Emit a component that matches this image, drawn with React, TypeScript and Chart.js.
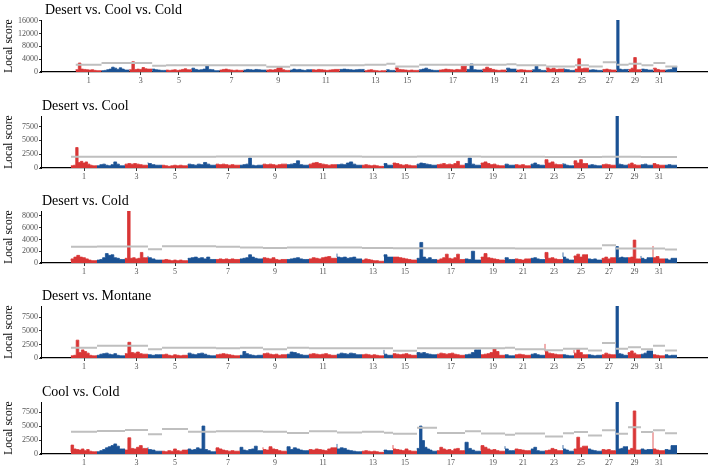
import React, { useEffect, useLayoutEffect, useRef } from 'react';
import { Chart, registerables } from 'chart.js';

Chart.register(...registerables);

// Chromosome (linkage group) lengths in position units, in genome order
const chromosomeLengths = [26, 28, 23, 14, 26, 28, 24, 23, 24, 22, 28, 25, 22, 9, 24, 20, 28, 16, 24, 10, 16, 14, 18, 11, 14, 14, 14, 12, 13, 12, 12, 12];
const labelledChromosomes = [1, 3, 5, 7, 9, 11, 13, 15, 17, 19, 21, 23, 25, 27, 29, 31];

const panelTitles = ['Desert vs. Cool vs. Cold', 'Desert vs. Cool', 'Desert vs. Cold', 'Desert vs. Montane', 'Cool vs. Cold'];
const yAxisMax = [16200, 9400, 8850, 9600, 9300];
const yTicksDesertCoolCold = [0, 4000, 8000, 12000, 16000];
const yTicksDesertCool = [0, 2500, 5000, 7500];
const yTicksDesertCold = [0, 2000, 4000, 6000, 8000];
const yTicksDesertMontane = [0, 2500, 5000, 7500];
const yTicksCoolCold = [0, 2500, 5000, 7500];

// Local score windows, one list per chromosome
const scoresDesertCoolCold: number[][] = [
  [500, 700, 2800, 900, 800, 700, 600, 700, 500, 400],
  [300, 400, 500, 700, 900, 1500, 1200, 800, 1300, 900, 600],
  [600, 700, 3200, 800, 900, 800, 1400, 1000, 900],
  [800, 900, 700, 600, 500],
  [500, 600, 500, 600, 700, 500, 600, 800, 1000, 700],
  [500, 1200, 800, 600, 700, 900, 1900, 800, 700, 400],
  [400, 600, 800, 900, 700, 600, 500, 600, 500],
  [500, 600, 800, 700, 600, 800, 700, 600],
  [500, 600, 700, 600, 800, 1300, 1400, 700, 500],
  [500, 600, 900, 700, 800, 600, 500, 700],
  [600, 700, 600, 800, 700, 600, 500, 600, 700, 800],
  [700, 800, 900, 800, 700, 600, 700, 800],
  [300, 400, 600, 700, 500, 400, 300, 400],
  [600, 700, 500],
  [900, 1300, 800, 700, 600, 500, 600, 500],
  [500, 700, 900, 1200, 800, 600, 500],
  [500, 600, 700, 900, 800, 700, 600, 800, 700, 1800],
  [500, 800, 2500, 700, 600],
  [600, 900, 1500, 1100, 800, 600, 500, 600],
  [700, 1200, 900],
  [500, 600, 700, 600, 500],
  [500, 700, 1800, 800, 500],
  [1100, 1300, 900, 1200, 800, 900],
  [1200, 800, 700, 500],
  [700, 900, 4100, 1000, 1200],
  [500, 600, 700, 600, 500],
  [600, 800, 900, 700, 600],
  [700, 16200, 900, 700, 800],
  [600, 800, 1200, 4500, 700],
  [700, 900, 800, 600],
  [900, 1200, 800, 600],
  [500, 600, 700, 800, 1600],
];

const scoresDesertCool: number[][] = [
  [300, 400, 500, 3700, 1000, 1200, 900, 1100, 700, 500, 400],
  [300, 400, 600, 700, 500, 400, 600, 1100, 700, 400],
  [500, 700, 800, 700, 800, 700, 600, 500],
  [1000, 800, 600, 500],
  [400, 500, 400, 300, 400, 500, 400, 500, 400],
  [500, 700, 600, 500, 700, 600, 1000, 700, 500],
  [500, 700, 600, 700, 600, 500, 600, 500],
  [400, 500, 600, 700, 1800, 500, 400, 500],
  [500, 700, 600, 700, 600, 500, 600, 700],
  [500, 600, 700, 800, 1300, 600, 500],
  [500, 700, 900, 1000, 800, 700, 600, 500, 600],
  [500, 600, 700, 600, 900, 1100, 700, 500],
  [400, 500, 600, 500, 400, 500, 400, 300],
  [600, 800, 500],
  [700, 900, 800, 600, 500, 600, 500, 400],
  [500, 700, 900, 800, 700, 600, 500],
  [400, 600, 700, 800, 600, 700, 600, 800, 1200, 500],
  [600, 800, 1800, 700, 500],
  [700, 900, 1100, 800, 600, 700, 500, 400],
  [500, 700, 500],
  [400, 600, 500, 600, 400],
  [500, 700, 900, 600, 500],
  [800, 1500, 900, 1100, 700, 600],
  [900, 700, 500, 400],
  [700, 1300, 900, 1500, 800],
  [400, 500, 600, 500, 400],
  [500, 600, 700, 600, 500],
  [500, 9400, 700, 600, 500],
  [500, 700, 900, 600, 500],
  [500, 600, 700, 500],
  [600, 800, 600, 500],
  [400, 500, 600, 500],
];

const scoresDesertCold: number[][] = [
  [400, 700, 1000, 1300, 1000, 900, 700, 500, 400],
  [400, 500, 600, 900, 1600, 1300, 1400, 900, 800, 600],
  [700, 800, 8850, 800, 900, 700, 800, 1800, 900],
  [1200, 900, 700, 500],
  [400, 500, 600, 500, 400, 500, 400, 500, 400],
  [600, 800, 900, 1000, 800, 900, 700, 1000, 600],
  [500, 600, 700, 600, 700, 600, 700, 600],
  [600, 700, 800, 900, 1400, 1000, 800, 700],
  [700, 900, 800, 700, 900, 600, 500, 600],
  [500, 600, 700, 800, 900, 700, 600],
  [500, 700, 900, 800, 700, 900, 1000, 1100, 800],
  [1600, 1000, 900, 1000, 800, 900, 1000, 700],
  [400, 500, 700, 600, 500, 400, 400, 300],
  [1100, 1400, 1000],
  [900, 1000, 1000, 900, 800, 700, 600, 500],
  [600, 800, 3500, 1000, 700, 900, 600],
  [400, 500, 700, 900, 1500, 800, 700, 900, 1500, 600],
  [500, 700, 600, 2000, 500],
  [800, 1000, 1600, 900, 800, 700, 600, 500],
  [700, 900, 600],
  [500, 700, 600, 500, 700],
  [600, 800, 900, 700, 600],
  [900, 1800, 800, 900, 700, 600],
  [1800, 1000, 700, 500],
  [900, 1200, 1500, 1000, 1400],
  [500, 700, 600, 700, 500],
  [600, 800, 1000, 700, 900],
  [800, 2800, 900, 1000, 900],
  [600, 900, 1000, 3900, 700],
  [1200, 800, 600, 900],
  [2900, 900, 1100, 700],
  [600, 700, 500, 800],
];

const scoresDesertMontane: number[][] = [
  [300, 400, 500, 3300, 1000, 1500, 1200, 900, 500, 400],
  [400, 500, 700, 800, 900, 700, 600, 800, 500, 400],
  [700, 800, 2900, 1000, 900, 1100, 800, 700],
  [700, 600, 500, 600],
  [500, 600, 700, 500, 400, 600, 500, 400, 500],
  [600, 900, 700, 600, 800, 900, 700, 500, 400],
  [500, 600, 700, 800, 700, 600, 500, 400],
  [400, 500, 1200, 800, 600, 500, 400, 500],
  [600, 800, 900, 700, 600, 700, 500, 600],
  [600, 700, 1100, 1000, 800, 600, 500],
  [600, 700, 800, 700, 600, 700, 800, 600, 500],
  [600, 700, 900, 800, 700, 900, 800, 600],
  [500, 600, 700, 600, 500, 600, 500, 400],
  [1500, 700, 500],
  [600, 800, 700, 600, 700, 800, 600, 500],
  [600, 1000, 900, 1000, 800, 700, 600],
  [600, 700, 900, 800, 700, 800, 900, 700, 600, 500],
  [500, 600, 700, 1000, 1500],
  [500, 600, 700, 800, 1000, 1700, 1200, 500],
  [500, 600, 400],
  [500, 600, 700, 600, 500],
  [600, 700, 800, 600, 500],
  [2600, 1200, 900, 800, 700, 600],
  [500, 600, 500, 400],
  [1500, 900, 1600, 1000, 600],
  [500, 600, 500, 400, 500],
  [500, 600, 900, 700, 600],
  [600, 9600, 800, 700, 500],
  [700, 1000, 1300, 900, 600],
  [600, 700, 900, 1300],
  [500, 600, 500, 400],
  [500, 600, 400, 500],
];

const scoresCoolCold: number[][] = [
  [400, 1600, 900, 800, 700, 900, 600, 800, 500, 400],
  [300, 400, 600, 800, 1100, 1300, 1500, 1800, 1400, 900],
  [800, 700, 2900, 1000, 900, 1200, 1500, 1000],
  [1200, 800, 700, 500],
  [400, 500, 400, 600, 500, 900, 600, 500, 700],
  [600, 900, 700, 800, 1100, 900, 5000, 800, 600, 400],
  [400, 1100, 900, 700, 600, 500, 600, 500],
  [500, 1200, 700, 600, 800, 900, 1400, 600],
  [1200, 800, 700, 1300, 900, 800, 600, 500],
  [600, 1300, 800, 1100, 900, 700, 600],
  [600, 800, 700, 900, 800, 700, 600, 900, 1100],
  [1800, 900, 1100, 1000, 700, 600, 500, 400],
  [400, 500, 600, 500, 400, 500, 400, 300],
  [500, 700, 600],
  [1600, 900, 800, 700, 600, 900, 600, 500],
  [800, 1000, 5000, 2400, 1200, 900, 700, 500],
  [400, 600, 1200, 900, 700, 800, 600, 900, 1000, 600],
  [600, 2100, 1000, 700, 500],
  [700, 1500, 1200, 900, 700, 800, 600, 500],
  [1400, 900, 600],
  [700, 900, 800, 700, 600],
  [800, 900, 1200, 600, 500],
  [500, 600, 700, 1000, 800, 600],
  [1600, 900, 700, 500],
  [600, 900, 3000, 1100, 1400],
  [600, 900, 700, 600, 500],
  [500, 800, 700, 800, 600],
  [700, 9300, 900, 1000, 1300],
  [500, 700, 1000, 7700, 700],
  [600, 900, 700, 800],
  [3900, 900, 700, 600],
  [600, 800, 700, 1500],
];

// Significance thresholds, one per chromosome
const thresholdDesertCoolCold = [2240, 2780, 2780, 1920, 2130, 2130, 2130, 2130, 1600, 2130, 2130, 2130, 2240, 2560, 1700, 2240, 2240, 2240, 2240, 2400, 2130, 2130, 1700, 1700, 2130, 1700, 3000, 2240, 2560, 2130, 2780, 1700];
const thresholdDesertCool = [2050, 2050, 2050, 2050, 2050, 2050, 2100, 2100, 2100, 2100, 2100, 2100, 2050, 2050, 2050, 2100, 2100, 2100, 2050, 2050, 2050, 2050, 2000, 2000, 2000, 2000, 2050, 2050, 2050, 2000, 2000, 2000];
const thresholdDesertCold = [2750, 2800, 2800, 2350, 2850, 2850, 2750, 2650, 2550, 2650, 2650, 2650, 2550, 2550, 2500, 2500, 2500, 2500, 2500, 2500, 2450, 2450, 2450, 2450, 2450, 2450, 3000, 2450, 2450, 2450, 2450, 2300];
const thresholdDesertMontane = [1900, 2240, 2240, 1600, 1900, 1900, 1800, 1900, 1600, 1900, 1800, 1800, 1800, 1800, 1350, 1800, 1800, 1800, 1800, 1900, 1600, 1600, 1450, 1700, 1700, 1400, 2750, 1700, 2000, 1600, 2240, 1400];
const thresholdCoolCold = [4000, 4100, 4300, 3550, 4450, 4000, 4050, 4050, 4000, 3750, 4050, 3850, 4000, 3800, 3600, 4700, 3750, 4050, 3650, 3450, 3650, 3650, 3150, 3700, 3950, 3300, 4250, 3600, 4800, 3950, 4250, 3700];

const panelScores = [scoresDesertCoolCold, scoresDesertCool, scoresDesertCold, scoresDesertMontane, scoresCoolCold];
const panelThresholds = [thresholdDesertCoolCold, thresholdDesertCool, thresholdDesertCold, thresholdDesertMontane, thresholdCoolCold];
const panelYTicks = [yTicksDesertCoolCold, yTicksDesertCool, yTicksDesertCold, yTicksDesertMontane, yTicksCoolCold];

const RED = '#d93636';
const BLUE = '#1b5294';
const GREY = '#bfbfbf';
const FONT = '"Liberation Serif", "Times New Roman", serif';

const panelTops = [0, 96, 191, 286, 382];
const panelXMin = [-35, -30, -30, -30, -30];
const panelTitleX = [45, 42, 42, 42, 42];
const X_MAX = 636;
const CANVAS_W = 709;
const CANVAS_H = 88;

const chromStarts: number[] = [];
chromosomeLengths.reduce((acc, len) => {
  chromStarts.push(acc);
  return acc + len;
}, 0);

function Panel({ index }: { index: number }) {
  const ref = useRef<HTMLCanvasElement | null>(null);

  useEffect(() => {
    if (!ref.current) return;
    const scores = panelScores[index];
    const thresholds = panelThresholds[index];

    const thrData: { x: number; y: number | null }[] = [];
    thresholds.forEach((t, c) => {
      const s = chromStarts[c];
      const e = s + chromosomeLengths[c];
      thrData.push({ x: s, y: t }, { x: e, y: t }, { x: e, y: null });
    });

    const datasets: any[] = [
      {
        data: thrData,
        borderColor: GREY,
        borderWidth: 2,
        pointRadius: 0,
        fill: false,
        spanGaps: false,
      },
    ];

    scores.forEach((vals, c) => {
      const s = chromStarts[c];
      const w = chromosomeLengths[c] / vals.length;
      const pts = vals.map((v, i) => ({ x: s + i * w, y: v }));
      pts.push({ x: s + chromosomeLengths[c], y: vals[vals.length - 1] });
      const col = c % 2 === 0 ? RED : BLUE;
      datasets.push({
        data: pts,
        stepped: 'after',
        fill: 'origin',
        backgroundColor: col,
        borderColor: col,
        borderWidth: 0.8,
        pointRadius: 0,
      });
    });

    const title = panelTitles[index];
    const titleX = panelTitleX[index];
    const yTicks = panelYTicks[index];
    const titlePlugin = {
      id: 'panelTitle',
      afterDraw(chart: any) {
        const ctx = chart.ctx;
        ctx.save();
        ctx.font = `14px ${FONT}`;
        ctx.fillStyle = '#000';
        ctx.textBaseline = 'alphabetic';
        ctx.textAlign = 'left';
        ctx.fillText(title, titleX, 13.5);
        ctx.restore();
      },
    };

    const tickFont = { family: FONT, size: 8 };

    const chart = new Chart(ref.current, {
      type: 'line',
      data: { datasets },
      options: {
        animation: false,
        responsive: false,
        maintainAspectRatio: false,
        events: [],
        layout: { padding: { top: 20, right: 2, left: 0, bottom: 0 } },
        plugins: {
          legend: { display: false },
          tooltip: { enabled: false },
          title: { display: false },
        },
        scales: {
          x: {
            type: 'linear',
            min: panelXMin[index],
            max: X_MAX,
            z: 1,
            afterBuildTicks: (scale: any) => {
              scale.ticks = labelledChromosomes.map((n) => ({
                value: chromStarts[n - 1] + chromosomeLengths[n - 1] / 2,
              }));
            },
            afterFit: (scale: any) => {
              scale.height = 16;
            },
            ticks: {
              autoSkip: false,
              maxRotation: 0,
              padding: 1,
              color: '#555',
              font: tickFont,
              callback: (_v: any, i: number) => String(labelledChromosomes[i]),
            },
            grid: { display: true, drawOnChartArea: false, drawTicks: true, tickLength: 3, color: '#333' },
            border: { display: true, color: '#000', width: 1.2 },
          },
          y: {
            type: 'linear',
            min: 0,
            max: yAxisMax[index],
            afterBuildTicks: (scale: any) => {
              scale.ticks = yTicks.map((v) => ({ value: v }));
            },
            afterFit: (scale: any) => {
              scale.width = 41;
            },
            ticks: {
              autoSkip: false,
              padding: 1,
              color: '#555',
              font: tickFont,
              callback: (v: any) => String(v),
            },
            grid: { display: true, drawOnChartArea: false, drawTicks: true, tickLength: 2, color: '#333' },
            border: { display: true, color: '#000', width: 1 },
            title: {
              display: true,
              text: 'Local score',
              color: '#000',
              font: { family: FONT, size: 11.5 },
              padding: { top: 2, bottom: 0 },
            },
          },
        },
      } as any,
      plugins: [titlePlugin],
    });

    return () => chart.destroy();
  }, [index]);

  return (
    <canvas
      ref={ref}
      width={CANVAS_W}
      height={CANVAS_H}
      style={{ position: 'absolute', left: 0, top: panelTops[index], width: CANVAS_W, height: CANVAS_H }}
    />
  );
}

export default function App() {
  useLayoutEffect(() => {
    document.body.style.margin = '0';
    document.body.style.background = '#fff';
  }, []);
  return (
    <div style={{ position: 'relative', width: 709, height: 469, overflow: 'hidden', background: '#fff' }}>
      {panelTitles.map((_, i) => (
        <Panel key={i} index={i} />
      ))}
    </div>
  );
}
